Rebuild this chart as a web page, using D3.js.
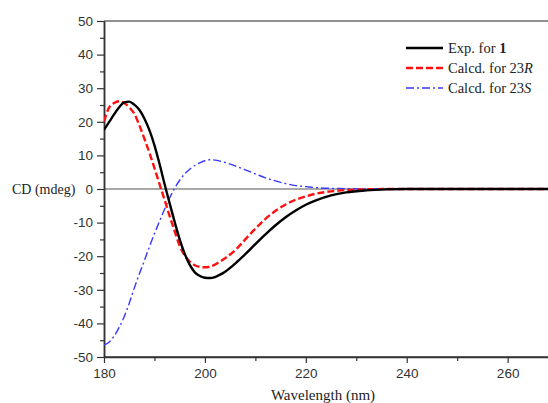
<!DOCTYPE html>
<html>
<head>
<meta charset="utf-8">
<script src="https://cdn.jsdelivr.net/npm/d3@7"></script>
<style>
  body { margin: 0; background: #fff; }
  svg { display: block; }
</style>
</head>
<body>
<div class="canvas"></div>
<script>
// data
const wavelength = [180, 181, 182, 183, 184, 185, 186, 187, 188, 189, 190, 191, 192, 193, 194, 195, 196, 197, 198, 199, 200, 201, 202, 203, 204, 206, 208, 210, 212, 214, 216, 218, 220, 222, 225, 228, 232, 236, 240, 250, 260, 268];
const expValues = [17.6, 19.9, 22.2, 24.3, 25.8, 26.0, 25.1, 23.6, 21.0, 17.5, 13.0, 7.5, 1.5, -4.2, -9.8, -15.0, -19.3, -22.6, -24.8, -25.9, -26.4, -26.5, -26.2, -25.5, -24.6, -22.2, -19.4, -16.4, -13.5, -10.8, -8.4, -6.4, -4.7, -3.4, -1.9, -1.0, -0.4, -0.1, 0, 0, 0, 0];
const calcRValues = [20.1, 24.2, 25.6, 26.1, 25.6, 24.3, 22.4, 19.0, 15.0, 10.8, 6.2, 1.5, -3.2, -8.0, -12.5, -16.9, -19.8, -21.6, -22.7, -23.2, -23.3, -23.1, -22.5, -21.6, -20.6, -18.2, -15.0, -11.8, -8.9, -6.5, -4.6, -3.2, -2.2, -1.4, -0.7, -0.3, -0.1, 0, 0, 0, 0, 0];
const calcSValues = [-46.4, -45.6, -43.8, -41.2, -38.0, -34.0, -29.5, -25.3, -21.3, -17.2, -13.3, -9.6, -6.0, -2.7, 0.2, 2.6, 4.5, 5.9, 7.0, 7.8, 8.4, 8.7, 8.6, 8.3, 7.9, 6.9, 5.7, 4.5, 3.3, 2.4, 1.6, 1.0, 0.7, 0.4, 0.2, 0.1, 0, 0, 0, 0, 0, 0];

const xTicks = [180, 200, 220, 240, 260];
const xMinorTicks = [190, 210, 230, 250];
const yTicks = [-50, -40, -30, -20, -10, 0, 10, 20, 30, 40, 50];
const yMinorTicks = [-45, -35, -25, -15, -5, 5, 15, 25, 35, 45];

const series = [
  { name: 'exp', values: expValues, color: '#000', width: 2.4, dash: null },
  { name: 'calcR', values: calcRValues, color: '#ff1010', width: 2.4, dash: '7,3' },
  { name: 'calcS', values: calcSValues, color: '#3838ff', width: 1.4, dash: '8,3,2,3' }
];

const canvasWidth = 548;
const canvasHeight = 403;

const svg = d3
  .select('.canvas')
  .append('svg')
  .attr('width', canvasWidth)
  .attr('height', canvasHeight);

// Scales
const x = d3.scaleLinear().domain([180, 268]).range([104, 548]);
const y = d3.scaleLinear().domain([-50, 50]).range([357, 21]);

const tickFont = 'Arial, "Liberation Sans", sans-serif';
const serifFont = '"Times New Roman", "Liberation Serif", serif';

// top frame and zero line
svg.append('line')
  .attr('x1', x(180)).attr('x2', canvasWidth)
  .attr('y1', y(50)).attr('y2', y(50))
  .attr('stroke', '#222').attr('stroke-width', 1);
svg.append('line')
  .attr('x1', x(180)).attr('x2', canvasWidth)
  .attr('y1', y(0)).attr('y2', y(0))
  .attr('stroke', '#555').attr('stroke-width', 1.2);

// Axes (plain hyphen for negatives, as in the reference)
const fmt = d => String(d);
const xAxis = d3.axisBottom(x).tickValues(xTicks).tickSize(6).tickSizeOuter(0).tickPadding(5).tickFormat(fmt);
const xMinor = d3.axisBottom(x).tickValues(xMinorTicks).tickSize(4).tickSizeOuter(0).tickFormat('');
const yAxis = d3.axisLeft(y).tickValues(yTicks).tickSize(7).tickSizeOuter(0).tickPadding(4).tickFormat(fmt);
const yMinor = d3.axisLeft(y).tickValues(yMinorTicks).tickSize(4).tickSizeOuter(0).tickFormat('');

const xAxisGroup = svg.append('g').attr('transform', `translate(0, ${y(-50)})`).call(xAxis);
svg.append('g').attr('transform', `translate(0, ${y(-50)})`).call(xMinor);
const yAxisGroup = svg.append('g').attr('transform', `translate(${x(180)}, 0)`).call(yAxis);
svg.append('g').attr('transform', `translate(${x(180)}, 0)`).call(yMinor);

svg.selectAll('.domain').attr('stroke', '#333').attr('stroke-width', 1.5);
svg.selectAll('.tick line').attr('stroke', '#333').attr('stroke-width', 1.2);

// x axis line should run to the edge
xAxisGroup.select('.domain').attr('d', `M${x(180)},0H${canvasWidth}`);

xAxisGroup.selectAll('text')
  .attr('font-family', tickFont)
  .attr('font-size', 13.5)
  .attr('fill', '#333');
yAxisGroup.selectAll('text')
  .attr('font-family', tickFont)
  .attr('font-size', 13.5)
  .attr('fill', '#333');

// axis titles
svg.append('text')
  .attr('x', 12)
  .attr('y', y(0) + 5)
  .attr('font-family', serifFont)
  .attr('font-size', 14)
  .attr('fill', '#222')
  .text('CD (mdeg)');
svg.append('text')
  .attr('x', 323)
  .attr('y', 400)
  .attr('text-anchor', 'middle')
  .attr('font-family', serifFont)
  .attr('font-size', 15)
  .attr('fill', '#222')
  .text('Wavelength (nm)');

// curves
svg.append('clipPath').attr('id', 'plot-clip')
  .append('rect')
  .attr('x', x(180)).attr('y', y(50))
  .attr('width', canvasWidth - x(180)).attr('height', y(-50) - y(50));

const line = d3
  .line()
  .x((d, i) => x(wavelength[i]))
  .y(d => y(d))
  .curve(d3.curveMonotoneX);

svg.append('g')
  .attr('clip-path', 'url(#plot-clip)')
  .selectAll('path')
  .data(series.slice().reverse())
  .enter()
  .append('path')
  .attr('fill', 'none')
  .attr('stroke', d => d.color)
  .attr('stroke-width', d => d.width)
  .attr('stroke-linejoin', 'round')
  .attr('stroke-dasharray', d => d.dash)
  .attr('d', d => line(d.values));

// legend
const legendItems = [
  { s: series[0], label: ['Exp. for ', '1'], style: 'bold' },
  { s: series[1], label: ['Calcd. for 23', 'R'], style: 'italic' },
  { s: series[2], label: ['Calcd. for 23', 'S'], style: 'italic' }
];

const legend = svg.append('g').attr('transform', 'translate(406, 48)');
legendItems.forEach((item, i) => {
  const row = legend.append('g').attr('transform', `translate(0, ${i * 20})`);
  row.append('line')
    .attr('x1', 0).attr('x2', 37)
    .attr('stroke', item.s.color)
    .attr('stroke-width', item.s.width)
    .attr('stroke-dasharray', item.s.dash);
  const t = row.append('text')
    .attr('x', 42)
    .attr('y', 5)
    .attr('font-family', serifFont)
    .attr('font-size', 14.5)
    .attr('fill', '#222');
  t.append('tspan').text(item.label[0]);
  t.append('tspan')
    .attr('font-weight', item.style === 'bold' ? 'bold' : null)
    .attr('font-style', item.style === 'italic' ? 'italic' : null)
    .text(item.label[1]);
});
</script>
</body>
</html>
